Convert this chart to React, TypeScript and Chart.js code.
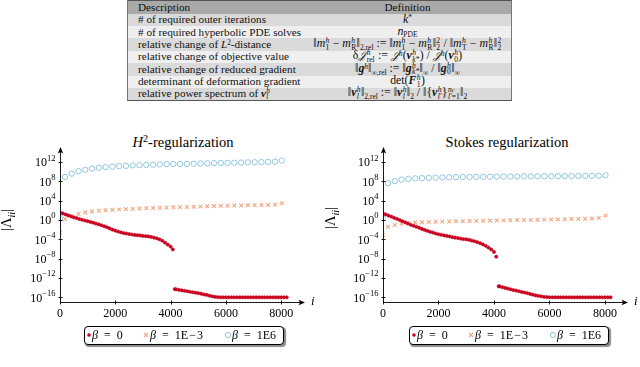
import React, { useEffect, useRef } from "react";
import { Chart, registerables } from "chart.js";

Chart.register(...registerables);

const FONT = '"Liberation Serif", "Times New Roman", serif';
const RED = "#ca0020";
const ORANGE = "#f4a582";
const BLUE = "#92c5de";

// ---------------- data ----------------
const legendLabels = ["β = 0", "β = 1E−3", "β = 1E6"];
const panelTitles = ["H2-regularization", "Stokes regularization"];
const yTickExponents = [-16, -12, -8, -4, 0, 4, 8, 12];
const xTickValues = [0, 2000, 4000, 6000, 8000];

// iteration index i of the sparse markers (β = 1E−3 and β = 1E6)
const markerIters = [0, 180, 425, 670, 915, 1160, 1405, 1650, 1895, 2140, 2385, 2630, 2875, 3120, 3365, 3610, 3855, 4100, 4345, 4590, 4835, 5080, 5325, 5570, 5815, 6060, 6305, 6550, 6795, 7040, 7285, 7530, 7775, 8020];

// iteration index i of the dense β = 0 points
const h2RedIters = [0, 100, 200, 300, 400, 500, 600, 700, 800, 900, 1000, 1100, 1200, 1300, 1400, 1500, 1600, 1700, 1800, 1900, 2000, 2100, 2200, 2300, 2400, 2500, 2600, 2700, 2800, 2900, 3000, 3100, 3200, 3300, 3400, 3500, 3600, 3700, 3800, 3900, 4000, 4080, 4150, 4200, 4300, 4400, 4500, 4600, 4700, 4800, 4900, 5000, 5100, 5200, 5300, 5400, 5500, 5600, 5700, 5800, 5900, 6000, 6100, 6200, 6300, 6400, 6500, 6600, 6700, 6800, 6900, 7000, 7100, 7200, 7300, 7400, 7500, 7600, 7700, 7800, 7900, 8000, 8100, 8200];
const stokesRedIters = [0, 100, 200, 300, 400, 500, 600, 700, 800, 900, 1000, 1100, 1200, 1300, 1400, 1500, 1600, 1700, 1800, 1900, 2000, 2100, 2200, 2300, 2400, 2500, 2600, 2700, 2800, 2900, 3000, 3100, 3200, 3300, 3400, 3500, 3600, 3700, 3800, 3900, 4000, 4080, 4170, 4200, 4300, 4400, 4500, 4600, 4700, 4800, 4900, 5000, 5100, 5200, 5300, 5400, 5500, 5600, 5700, 5800, 5900, 6000, 6100, 6200, 6300, 6400, 6500, 6600, 6700, 6800, 6900, 7000, 7100, 7200, 7300, 7400, 7500, 7600, 7700, 7800, 7900, 8000, 8100, 8200];

// log10 |Λ_ii| values
const h2RedLog10 = [1.6, 1.35, 1.15, 0.95, 0.75, 0.55, 0.4, 0.2, 0.05, -0.1, -0.25, -0.4, -0.55, -0.75, -0.9, -1.1, -1.3, -1.5, -1.75, -2.0, -2.2, -2.4, -2.55, -2.7, -2.8, -2.9, -3.0, -3.1, -3.15, -3.2, -3.3, -3.35, -3.4, -3.5, -3.65, -3.8, -4.0, -4.3, -4.7, -5.1, -5.5, -6.1, -14.3, -14.35, -14.45, -14.55, -14.65, -14.75, -14.85, -14.95, -15.05, -15.15, -15.25, -15.4, -15.5, -15.65, -15.8, -15.9, -15.95, -16, -16, -16, -16, -16, -16, -16, -16, -16, -16, -16, -16, -16, -16, -16, -16, -16, -16, -16, -16, -16, -16, -16, -16, -16];
const h2OrangeLog10 = [-2.6, 0.2, 0.8, 1.25, 1.55, 1.75, 1.9, 2.0, 2.1, 2.2, 2.25, 2.3, 2.38, 2.43, 2.48, 2.53, 2.58, 2.62, 2.66, 2.7, 2.75, 2.8, 2.85, 2.88, 2.92, 2.95, 2.98, 3.0, 3.03, 3.06, 3.09, 3.12, 3.18, 3.45];
const h2BlueLog10 = [0.35, 8.9, 9.6, 10.1, 10.4, 10.65, 10.8, 10.95, 11.05, 11.15, 11.2, 11.3, 11.35, 11.4, 11.45, 11.5, 11.55, 11.58, 11.6, 11.62, 11.65, 11.68, 11.72, 11.75, 11.78, 11.82, 11.85, 11.88, 11.92, 11.95, 11.98, 12.02, 12.06, 12.3];

const stokesRedLog10 = [1.4, 1.15, 0.9, 0.7, 0.45, 0.25, 0.0, -0.25, -0.5, -0.75, -1.0, -1.2, -1.4, -1.6, -1.85, -2.05, -2.25, -2.45, -2.6, -2.8, -2.95, -3.05, -3.2, -3.3, -3.4, -3.55, -3.65, -3.75, -3.85, -3.95, -4.0, -4.1, -4.25, -4.4, -4.6, -4.8, -5.05, -5.35, -5.7, -6.1, -6.6, -7.6, -13.7, -13.75, -13.9, -14.05, -14.2, -14.35, -14.5, -14.6, -14.75, -14.9, -15.0, -15.15, -15.3, -15.45, -15.6, -15.7, -15.8, -15.9, -15.95, -16, -16, -16, -16, -16, -16, -16, -16, -16, -16, -16, -16, -16, -16, -16, -16, -16, -16, -16, -16, -16, -16, -16];
const stokesOrangeLog10 = [-3.1, -1.4, -1.05, -0.75, -0.6, -0.5, -0.45, -0.4, -0.35, -0.32, -0.3, -0.27, -0.24, -0.2, -0.18, -0.15, -0.12, -0.1, -0.08, -0.05, -0.02, 0.0, 0.02, 0.05, 0.08, 0.1, 0.13, 0.16, 0.2, 0.23, 0.27, 0.32, 0.4, 0.9];
const stokesBlueLog10 = [0.35, 7.6, 8.05, 8.35, 8.5, 8.6, 8.65, 8.72, 8.77, 8.8, 8.83, 8.86, 8.88, 8.9, 8.92, 8.94, 8.96, 8.97, 8.98, 9.0, 9.0, 9.02, 9.03, 9.04, 9.05, 9.06, 9.07, 9.08, 9.1, 9.11, 9.12, 9.14, 9.17, 9.25];

const tableHeader = ["Description", "Definition"];

// ---------------- helpers ----------------
const SS = ({ p, b }: { p: React.ReactNode; b: React.ReactNode }) => (
  <span
    style={{
      display: "inline-block",
      verticalAlign: "-0.32em",
      fontSize: "0.64em",
      lineHeight: "0.9em",
      textAlign: "left",
      marginLeft: "0.05em",
      marginRight: "0.05em",
    }}
  >
    <span style={{ display: "block" }}>{p}</span>
    <span style={{ display: "block" }}>{b}</span>
  </span>
);
const Sub = ({ c }: { c: React.ReactNode }) => (
  <span style={{ fontSize: "0.64em", verticalAlign: "-0.3em", lineHeight: 0 }}>{c}</span>
);
const Sup = ({ c }: { c: React.ReactNode }) => (
  <span style={{ fontSize: "0.64em", verticalAlign: "0.45em", lineHeight: 0 }}>{c}</span>
);
const BV = ({ c }: { c: string }) => (
  <span style={{ fontWeight: 600, fontStyle: "italic" }}>{c}</span>
);
const SJ = () => <span style={{ fontStyle: "italic", fontFamily: '"DejaVu Serif", serif', fontSize: "0.95em" }}>𝒥</span>;
const N = "\u2016";

const tableDescriptions: React.ReactNode[] = [
  "# of required outer iterations",
  "# of required hyperbolic PDE solves",
  <>
    relative change of <i>L</i>
    <Sup c="2" />-distance
  </>,
  "relative change of objective value",
  "relative change of reduced gradient",
  "determinant of deformation gradient",
  <>
    relative power spectrum of <BV c="v" />
    <SS p={<i>h</i>} b={<i>l</i>} />
  </>,
];

const tableDefinitions: React.ReactNode[] = [
  <>
    <i>k</i>
    <Sup c="*" />
  </>,
  <>
    <i>n</i>
    <Sub c="PDE" />
  </>,
  <>
    {N}
    <i>m</i>
    <SS p={<i>h</i>} b="1" /> − <i>m</i>
    <SS p={<i>h</i>} b="R" />
    {N}
    <Sub c="2,rel" /> := {N}
    <i>m</i>
    <SS p={<i>h</i>} b="1" /> − <i>m</i>
    <SS p={<i>h</i>} b="R" />
    {N}
    <SS p="2" b="2" /> / {N}
    <i>m</i>
    <SS p={<i>h</i>} b="T" /> − <i>m</i>
    <SS p={<i>h</i>} b="R" />
    {N}
    <SS p="2" b="2" />
  </>,
  <>
    δ<SJ />
    <SS p={<i>h</i>} b="rel" /> := <SJ />
    <Sup c={<i>h</i>} />(<BV c="v" />
    <SS p={<i>h</i>} b={<i>k*</i>} />) / <SJ />
    <Sup c={<i>h</i>} />(<BV c="v" />
    <SS p={<i>h</i>} b="0" />)
  </>,
  <>
    {N}
    <BV c="g" />
    <Sup c={<i>h</i>} />
    {N}
    <Sub c="∞,rel" /> := {N}
    <BV c="g" />
    <SS p={<i>h</i>} b={<i>k*</i>} />
    {N}
    <Sub c="∞" /> / {N}
    <BV c="g" />
    <SS p={<i>h</i>} b="0" />
    {N}
    <Sub c="∞" />
  </>,
  <>
    det(<BV c="F" />
    <SS p={<i>h</i>} b="1" />)
  </>,
  <>
    {N}
    <BV c="v" />
    <SS p={<i>h</i>} b={<i>l</i>} />
    {N}
    <Sub c="2,rel" /> := {N}
    <BV c="v" />
    <SS p={<i>h</i>} b={<i>l</i>} />
    {N}
    <Sub c="2" /> / {N}
    {"{"}
    <BV c="v" />
    <SS p={<i>h</i>} b={<i>l′</i>} />
    {"}"}
    <SS p={<i>n<span style={{ fontSize: "0.8em" }}>c</span></i>} b={<><i>l′</i>=1</>} />
    {N}
    <Sub c="2" />
  </>,
];

// ---------------- chart plugin: pgfplots-like axes ----------------
const axesPlugin = {
  id: "pgfAxes",
  afterDraw(chart: any) {
    const { ctx, chartArea: a } = chart;
    const ys = chart.scales.y;
    const xs = chart.scales.x;
    const x0 = Math.round(a.left) + 0.5;
    const y0 = Math.round(a.bottom) + 0.5;
    ctx.save();
    ctx.strokeStyle = "#000";
    ctx.fillStyle = "#000";
    ctx.lineWidth = 0.9;
    ctx.beginPath();
    ctx.moveTo(x0, y0);
    ctx.lineTo(x0, a.top - 2);
    ctx.moveTo(x0, y0);
    ctx.lineTo(a.right, y0);
    ctx.stroke();
    // arrow heads
    const tip = a.top - 5;
    ctx.beginPath();
    ctx.moveTo(x0, tip);
    ctx.lineTo(x0 - 2.7, tip + 6.5);
    ctx.lineTo(x0, tip + 5);
    ctx.lineTo(x0 + 2.7, tip + 6.5);
    ctx.closePath();
    ctx.fill();
    const rt = a.right + 3;
    ctx.beginPath();
    ctx.moveTo(rt, y0);
    ctx.lineTo(rt - 6.5, y0 - 2.7);
    ctx.lineTo(rt - 5, y0);
    ctx.lineTo(rt - 6.5, y0 + 2.7);
    ctx.closePath();
    ctx.fill();
    // tick marks
    ctx.beginPath();
    yTickExponents.forEach((e) => {
      const y = Math.round(ys.getPixelForValue(Math.pow(10, e))) + 0.5;
      ctx.moveTo(x0 - 2, y);
      ctx.lineTo(x0 + 2, y);
    });
    xTickValues.forEach((v) => {
      const x = Math.round(xs.getPixelForValue(v)) + 0.5;
      ctx.moveTo(x, y0 - 2);
      ctx.lineTo(x, y0 + 2);
    });
    ctx.stroke();
    // y tick labels 10^e
    ctx.textAlign = "left";
    ctx.textBaseline = "alphabetic";
    yTickExponents.forEach((e) => {
      const y = ys.getPixelForValue(Math.pow(10, e));
      const expStr = e < 0 ? "\u2212" + Math.abs(e) : String(e);
      ctx.font = `8.5px ${FONT}`;
      const we = ctx.measureText(expStr).width;
      ctx.font = `12px ${FONT}`;
      const wb = ctx.measureText("10").width;
      const right = x0 - 5;
      ctx.fillText("10", right - we - wb, y + 4.2);
      ctx.font = `8.5px ${FONT}`;
      ctx.fillText(expStr, right - we, y - 1.5);
    });
    // axis label i
    ctx.font = `italic 13px ${FONT}`;
    ctx.textBaseline = "middle";
    ctx.fillText("i", a.right + 9, y0 - 1);
    ctx.restore();
  },
};

type PanelProps = {
  left: number;
  redIters: number[];
  redLog: number[];
  orangeLog: number[];
  blueLog: number[];
  xMax: number;
  yAxisWidth: number;
  padRight: number;
};

function Panel({ left, redIters, redLog, orangeLog, blueLog, xMax, yAxisWidth, padRight }: PanelProps) {
  const ref = useRef<HTMLCanvasElement>(null);
  useEffect(() => {
    if (!ref.current) return;
    const pts = (xs: number[], es: number[]) => xs.map((x, k) => ({ x, y: Math.pow(10, es[k]) }));
    const chart = new Chart(ref.current, {
      type: "scatter",
      data: {
        datasets: [
          {
            label: legendLabels[0],
            data: pts(redIters, redLog),
            pointStyle: "circle",
            pointRadius: 1.6,
            pointBackgroundColor: RED,
            pointBorderColor: RED,
            pointBorderWidth: 0.6,
          },
          {
            label: legendLabels[1],
            data: pts(markerIters, orangeLog),
            pointStyle: "crossRot",
            pointRadius: 2.6,
            pointBorderColor: ORANGE,
            pointBackgroundColor: ORANGE,
            pointBorderWidth: 1.1,
          },
          {
            label: legendLabels[2],
            data: pts(markerIters, blueLog),
            pointStyle: "circle",
            pointRadius: 2.7,
            pointBackgroundColor: "rgba(0,0,0,0)",
            pointBorderColor: BLUE,
            pointBorderWidth: 1,
          },
        ],
      },
      options: {
        animation: false,
        responsive: false,
        events: [],
        layout: { padding: { left: 0, top: 22, right: padRight, bottom: 0 } },
        plugins: { legend: { display: false }, tooltip: { enabled: false } },
        scales: {
          x: {
            type: "linear",
            min: 0,
            max: xMax,
            grid: { display: false, drawTicks: false, tickLength: 0 },
            border: { display: false },
            ticks: {
              font: { family: FONT, size: 12 },
              color: "#000",
              padding: 5,
              maxRotation: 0,
              callback: (v: any) => String(v),
            },
            afterBuildTicks: (s: any) => {
              s.ticks = xTickValues.map((v) => ({ value: v }));
            },
            afterFit: (s: any) => {
              s.height = 28;
            },
          },
          y: {
            type: "logarithmic",
            min: Math.pow(10, -16.97),
            max: Math.pow(10, 14.07),
            grid: { display: false, drawTicks: false },
            border: { display: false },
            ticks: { display: false },
            afterBuildTicks: (s: any) => {
              s.ticks = yTickExponents.map((e) => ({ value: Math.pow(10, e) }));
            },
            afterFit: (s: any) => {
              s.width = yAxisWidth;
            },
          },
        },
      } as any,
      plugins: [axesPlugin],
    });
    return () => chart.destroy();
  }, []);
  return (
    <canvas
      ref={ref}
      width={320}
      height={200}
      style={{ position: "absolute", left, top: 130, width: 320, height: 200 }}
    />
  );
}

function DefTable() {
  const rowH = 12.4;
  const rowBgs = ["#dadada", "#efefef"];
  const cellL: React.CSSProperties = {
    width: 176,
    paddingLeft: 10,
    boxSizing: "border-box",
    whiteSpace: "nowrap",
    display: "flex",
    alignItems: "center",
    height: "100%",
  };
  const cellR: React.CSSProperties = {
    flex: 1,
    whiteSpace: "nowrap",
    fontSize: 11.8,
    display: "flex",
    alignItems: "center",
    justifyContent: "center",
    height: "100%",
  };
  const inner: React.CSSProperties = { lineHeight: 1, whiteSpace: "nowrap" };
  return (
    <div
      style={{
        position: "absolute",
        left: 127,
        top: 0,
        width: 385,
        borderTop: "1.5px solid #555",
        borderBottom: "1.5px solid #555",
        borderLeft: "1px solid #777",
        borderRight: "1px solid #777",
        boxSizing: "border-box",
        fontFamily: FONT,
        fontSize: 11.2,
        color: "#111",
      }}
    >
      <div style={{ display: "flex", height: 12.6, background: "#a9a9a9" }}>
        <div style={cellL}>
          <span style={inner}>{tableHeader[0]}</span>
        </div>
        <div style={{ ...cellR, fontSize: 11.2 }}>
          <span style={inner}>{tableHeader[1]}</span>
        </div>
      </div>
      {tableDescriptions.map((d, k) => (
        <div key={k} style={{ display: "flex", height: rowH, background: rowBgs[k % 2], overflow: "visible" }}>
          <div style={cellL}>
            <span style={inner}>{d}</span>
          </div>
          <div style={cellR}>
            <span style={inner}>{tableDefinitions[k]}</span>
          </div>
        </div>
      ))}
    </div>
  );
}

function LegendBox({ left }: { left: number }) {
  const txt: React.CSSProperties = { position: "absolute", top: 0, lineHeight: "17px", whiteSpace: "nowrap" };
  const sp = "\u2002";
  return (
    <div
      style={{
        position: "absolute",
        left,
        top: 326,
        width: 200,
        height: 19,
        border: "1px solid #000",
        borderRadius: 4,
        boxShadow: "1.5px 1.5px 1px #8a8a8a",
        background: "#fff",
        boxSizing: "border-box",
        fontFamily: FONT,
        fontSize: 12,
        color: "#000",
      }}
    >
      <svg style={{ position: "absolute", left: 1, top: 5 }} width={6} height={6}>
        <circle cx={3} cy={3} r={1.8} fill={RED} />
      </svg>
      <span style={{ ...txt, left: 7 }}>
        <i>β</i>
        {sp}={sp}0
      </span>
      <svg style={{ position: "absolute", left: 58, top: 5 }} width={6} height={6}>
        <path d="M1 1L5 5M5 1L1 5" stroke={ORANGE} strokeWidth={1.2} />
      </svg>
      <span style={{ ...txt, left: 65 }}>
        <i>β</i>
        {sp}={sp}1E{"\u200a"}−{"\u200a"}3
      </span>
      <svg style={{ position: "absolute", left: 139, top: 4 }} width={8} height={8}>
        <circle cx={4} cy={4} r={2.6} fill="none" stroke={BLUE} strokeWidth={1} />
      </svg>
      <span style={{ ...txt, left: 147 }}>
        <i>β</i>
        {sp}={sp}1E6
      </span>
    </div>
  );
}

function YLabel({ cx, cy }: { cx: number; cy: number }) {
  return (
    <div
      style={{
        position: "absolute",
        left: cx,
        top: cy,
        transform: "translate(-50%, -50%) rotate(-90deg)",
        fontFamily: FONT,
        fontSize: 14.5,
        whiteSpace: "nowrap",
        lineHeight: "15px",
      }}
    >
      |Λ<span style={{ fontSize: "0.7em", verticalAlign: "-0.3em" }}><i>ii</i></span>|
    </div>
  );
}

export default function App() {
  const titleStyle: React.CSSProperties = {
    position: "absolute",
    top: 134,
    width: 200,
    textAlign: "center",
    fontFamily: FONT,
    fontSize: 14.5,
    lineHeight: "16px",
    whiteSpace: "nowrap",
  };
  return (
    <div style={{ position: "absolute", left: 0, top: 0, width: 640, height: 367, background: "#fff", overflow: "hidden" }}>
      <DefTable />
      <div style={{ ...titleStyle, left: 83 }} title={panelTitles[0]}>
        <i>H</i>
        <span style={{ fontSize: "0.7em", verticalAlign: "0.5em", lineHeight: 0 }}>2</span>-regularization
      </div>
      <div style={{ ...titleStyle, left: 407 }}>{panelTitles[1]}</div>
      <Panel
        left={0}
        redIters={h2RedIters}
        redLog={h2RedLog10}
        orangeLog={h2OrangeLog10}
        blueLog={h2BlueLog10}
        xMax={8752}
        yAxisWidth={60}
        padRight={18}
      />
      <Panel
        left={320}
        redIters={stokesRedIters}
        redLog={stokesRedLog10}
        orangeLog={stokesOrangeLog10}
        blueLog={stokesBlueLog10}
        xMax={8721}
        yAxisWidth={63}
        padRight={15}
      />
      <YLabel cx={9} cy={220} />
      <YLabel cx={333} cy={218} />
      <LegendBox left={84} />
      <LegendBox left={409} />
    </div>
  );
}
